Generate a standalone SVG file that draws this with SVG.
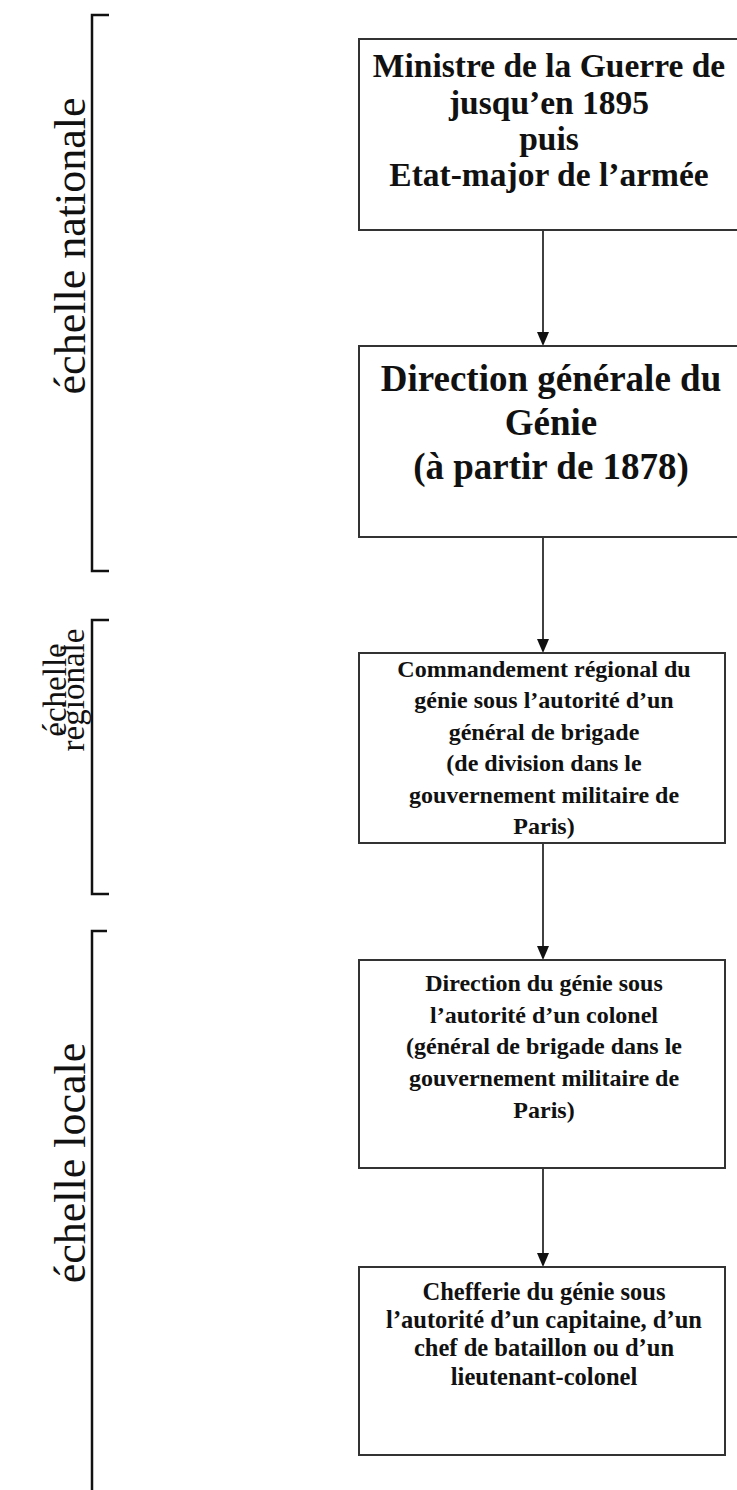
<svg xmlns="http://www.w3.org/2000/svg" width="737" height="1490" viewBox="0 0 737 1490">
<defs>
<style>
.box{fill:#fff;stroke:#333;stroke-width:2}
.br{fill:none;stroke:#111;stroke-width:2.5}
.lbl{font-family:"Liberation Serif","Times New Roman",serif;fill:#111;text-anchor:middle}
.t{font-family:"Liberation Serif","Times New Roman",serif;font-weight:bold;fill:#111;text-anchor:middle}
.c{stroke:#111;stroke-width:1.6;fill:none}
</style>
</defs>
<rect width="737" height="1490" fill="#fff"/>
<g id="scales">
<path class="br" d="M109,15 H92 V571 H109"/>
<path class="br" d="M109,620 H92 V894 H109"/>
<path class="br" d="M107,931 H92 V1495"/>
<text class="lbl" font-size="44" transform="translate(85,246) rotate(-90)">échelle nationale</text>
<text class="lbl" font-size="33" transform="translate(66,690) rotate(-90)">échelle</text>
<text class="lbl" font-size="33" transform="translate(84,690) rotate(-90)">régionale</text>
<text class="lbl" font-size="44" transform="translate(85,1163) rotate(-90)">échelle locale</text>
</g>
<g id="connectors">
<line class="c" x1="543" y1="230" x2="543" y2="332"/>
<path d="M537,332 L549,332 L543,346 Z" fill="#111"/>
<line class="c" x1="543" y1="537" x2="543" y2="639"/>
<path d="M537,639 L549,639 L543,653 Z" fill="#111"/>
<line class="c" x1="543" y1="843" x2="543" y2="946"/>
<path d="M537,946 L549,946 L543,960 Z" fill="#111"/>
<line class="c" x1="543" y1="1168" x2="543" y2="1253"/>
<path d="M537,1253 L549,1253 L543,1267 Z" fill="#111"/>
</g>
<g id="n1">
<rect class="box" x="359" y="39" width="385" height="191"/>
<text class="t" font-size="33.5" x="549" y="77">Ministre de la Guerre de</text>
<text class="t" font-size="33.5" x="549" y="114">jusqu’en 1895</text>
<text class="t" font-size="33.5" x="549" y="150">puis</text>
<text class="t" font-size="33.5" x="549" y="186">Etat-major de l’armée</text>
</g>
<g id="n2">
<rect class="box" x="359" y="346" width="385" height="191"/>
<text class="t" font-size="37" x="551" y="391">Direction générale du</text>
<text class="t" font-size="37" x="551" y="435">Génie</text>
<text class="t" font-size="37" x="551" y="479">(à partir de 1878)</text>
</g>
<g id="n3">
<rect class="box" x="359" y="653" width="366" height="190"/>
<text class="t" font-size="24" x="544" y="677">Commandement régional du</text>
<text class="t" font-size="24" x="544" y="708">génie sous l’autorité d’un</text>
<text class="t" font-size="24" x="544" y="740">général de brigade</text>
<text class="t" font-size="24" x="544" y="771">(de division dans le</text>
<text class="t" font-size="24" x="544" y="803">gouvernement militaire de</text>
<text class="t" font-size="24" x="544" y="834">Paris)</text>
</g>
<g id="n4">
<rect class="box" x="359" y="960" width="366" height="208"/>
<text class="t" font-size="24" x="544" y="991">Direction du génie sous</text>
<text class="t" font-size="24" x="544" y="1023">l’autorité d’un colonel</text>
<text class="t" font-size="24" x="544" y="1054">(général de brigade dans le</text>
<text class="t" font-size="24" x="544" y="1086">gouvernement militaire de</text>
<text class="t" font-size="24" x="544" y="1118">Paris)</text>
</g>
<g id="n5">
<rect class="box" x="359" y="1267" width="366" height="188"/>
<text class="t" font-size="24.5" x="544" y="1300">Chefferie du génie sous</text>
<text class="t" font-size="24.5" x="544" y="1328">l’autorité d’un capitaine, d’un</text>
<text class="t" font-size="24.5" x="544" y="1356">chef de bataillon ou d’un</text>
<text class="t" font-size="24.5" x="544" y="1385">lieutenant-colonel</text>
</g>
</svg>
